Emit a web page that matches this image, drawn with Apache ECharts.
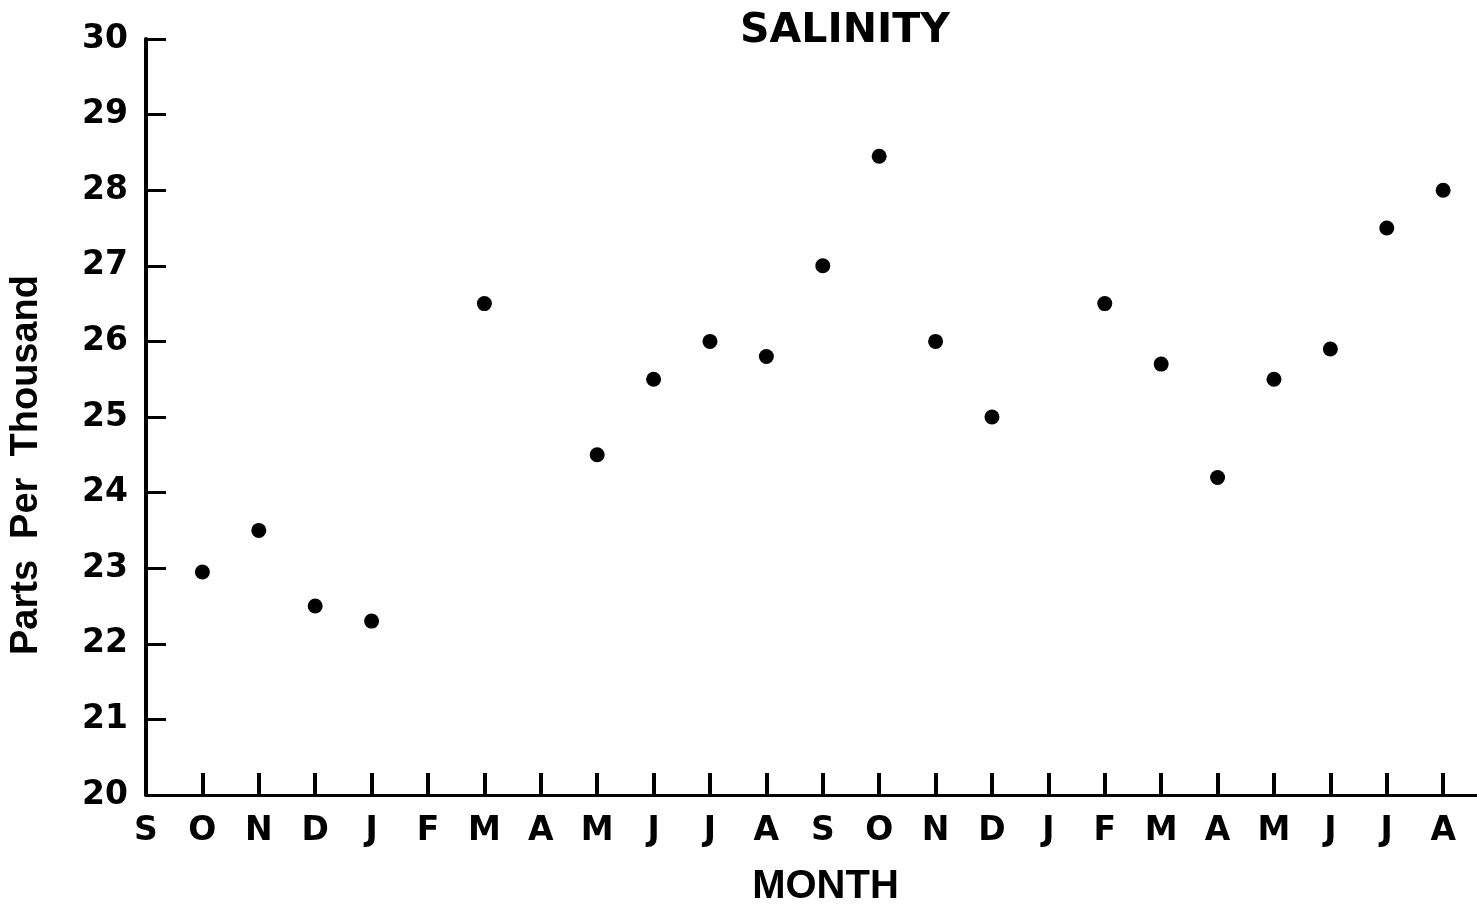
<!DOCTYPE html>
<html>
<head>
<meta charset="utf-8">
<script src="https://cdn.jsdelivr.net/npm/echarts@6/dist/echarts.min.js"></script>
<style>
html,body{margin:0;padding:0;background:#fff;}
#chart{width:1477px;height:919px;}
</style>
</head>
<body>
<div id="chart"></div>
<script>
const monthLabels = ['S','O','N','D','J','F','M','A','M','J','J','A','S','O','N','D','J','F','M','A','M','J','J','A'];
const pointMonthIndex = [1, 2, 3, 4, 6, 8, 9, 10, 11, 12, 13, 14, 15, 17, 18, 19, 20, 21, 22, 23];
const salinity = [22.95, 23.5, 22.5, 22.3, 26.5, 24.5, 25.5, 26.0, 25.8, 27.0, 28.45, 26.0, 25.0, 26.5, 25.7, 24.2, 25.5, 25.9, 27.5, 28.0];
const yTicks = [20, 21, 22, 23, 24, 25, 26, 27, 28, 29, 30];

const font = 'DejaVu Sans';
const font2 = 'Liberation Sans';
const data = pointMonthIndex.map((m, i) => [m, salinity[i]]);

const chart = echarts.init(document.getElementById('chart'));
chart.setOption({
  animation: false,
  backgroundColor: '#fff',
  title: {
    text: 'SALINITY',
    left: 735,
    top: 6,
    textStyle: {fontFamily: font, fontWeight: 'bold', fontSize: 41, color: '#000'}
  },
  grid: {left: 146, right: 0, top: 39, bottom: 124, containLabel: false},
  xAxis: {
    type: 'value',
    min: 0,
    max: 23.6,
    interval: 1,
    name: 'MONTH',
    nameLocation: 'middle',
    nameGap: 72,
    nameTextStyle: {fontFamily: font2, fontWeight: 'bold', fontSize: 40, color: '#000', padding: [0, 0, 0, 28]},
    splitLine: {show: false},
    axisLine: {show: true, lineStyle: {color: '#000', width: 3}},
    axisTick: {show: true, inside: true, length: 22, lineStyle: {color: '#000', width: 4}},
    axisLabel: {
      showMaxLabel: false,
      margin: 20,
      fontFamily: font, fontWeight: 'bold', fontSize: 33, color: '#000',
      formatter: v => (Number.isInteger(v) && monthLabels[v] !== undefined) ? monthLabels[v] : ''
    }
  },
  yAxis: {
    type: 'value',
    min: yTicks[0],
    max: yTicks[yTicks.length - 1],
    interval: 1,
    name: 'Parts  Per  Thousand',
    nameLocation: 'middle',
    nameRotate: 90,
    nameGap: 100,
    nameTextStyle: {fontFamily: font2, fontWeight: 'bold', fontSize: 38, color: '#000', padding: [0, 96, 0, 0]},
    splitLine: {show: false},
    axisLine: {show: true, lineStyle: {color: '#000', width: 4}},
    axisTick: {show: true, inside: true, length: 20, lineStyle: {color: '#000', width: 3}},
    axisLabel: {margin: 18, fontFamily: font, fontWeight: 'bold', fontSize: 33, color: '#000'}
  },
  series: [{
    type: 'scatter',
    data: data,
    symbol: 'circle',
    symbolSize: 15,
    itemStyle: {color: '#000', opacity: 1}
  }]
});
</script>
</body>
</html>
